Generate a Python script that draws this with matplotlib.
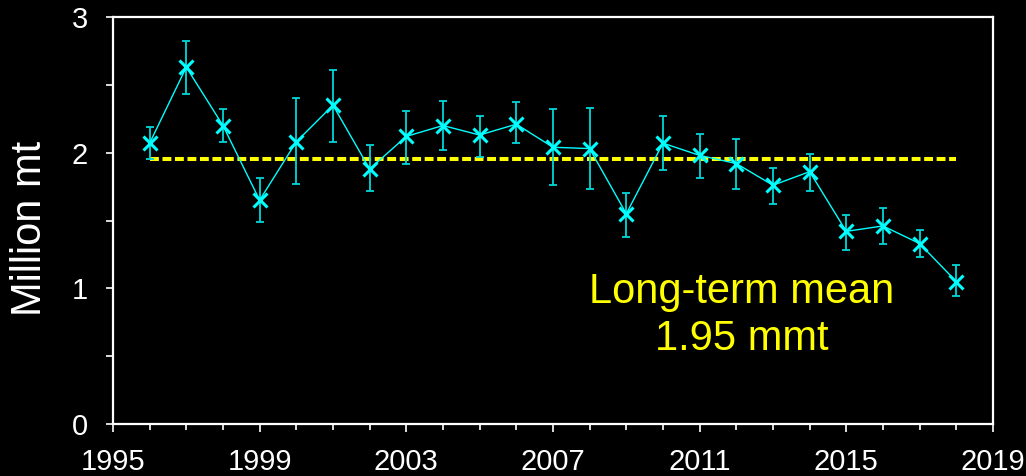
import matplotlib
matplotlib.use("Agg")
import matplotlib.pyplot as plt
import numpy as np
from matplotlib.ticker import MultipleLocator

plt.rcParams['font.family'] = ['Liberation Sans', 'DejaVu Sans']

# annual estimates (million mt) with lower / upper confidence limits
years = np.arange(1996, 2019)
values = [2.07, 2.63, 2.20, 1.65, 2.08, 2.35, 1.88, 2.12, 2.20, 2.13, 2.21, 2.04,
          2.03, 1.55, 2.07, 1.98, 1.92, 1.76, 1.86, 1.42, 1.46, 1.33, 1.05]
lower = [1.95, 2.43, 2.08, 1.49, 1.77, 2.08, 1.72, 1.92, 2.02, 1.97, 2.07, 1.76,
         1.73, 1.38, 1.87, 1.81, 1.73, 1.62, 1.72, 1.28, 1.33, 1.23, 0.94]
upper = [2.19, 2.82, 2.32, 1.81, 2.40, 2.61, 2.06, 2.31, 2.38, 2.27, 2.37, 2.32,
         2.33, 1.70, 2.27, 2.14, 2.10, 1.89, 1.99, 1.54, 1.59, 1.43, 1.17]
long_term_mean = 1.95
year_ticks = np.arange(1995, 2020, 4)

values = np.array(values)
yerr = [values - np.array(lower), np.array(upper) - values]

fig = plt.figure(figsize=(10.26, 4.76), dpi=100, facecolor='black')
ax = fig.add_axes([0.1101, 0.1092, 0.8577, 0.8551], facecolor='black')

ax.errorbar(years, values, yerr=yerr, fmt='none', ecolor='#00D8D8',
            elinewidth=1.3, capsize=3.0, capthick=1.3, zorder=2)
ax.plot(years, values, color='#00FFFF', lw=1.0, marker='x', markersize=10,
        markeredgewidth=2.2, zorder=3)

ax.plot([years[0], years[-1]], [long_term_mean, long_term_mean],
        color='#FFFF00', lw=2.9, linestyle=(0, (2.2, 0.9)), zorder=1)

ax.text(2012.15, 0.80, 'Long-term mean\n%.2f mmt' % long_term_mean,
        color='#FFFF00', fontsize=30, ha='center', va='center',
        linespacing=1.25)

ax.set_xlim(1995, 2019)
ax.set_ylim(0, 3)
ax.set_xticks(year_ticks)
ax.xaxis.set_minor_locator(MultipleLocator(1))
ax.yaxis.set_major_locator(MultipleLocator(1))
ax.yaxis.set_minor_locator(MultipleLocator(0.5))

for s in ax.spines.values():
    s.set_color('white')
    s.set_linewidth(1.6)

ax.tick_params(axis='x', which='major', length=6, width=1.2, color='white',
               labelcolor='white', labelsize=21, pad=11)
ax.tick_params(axis='x', which='minor', length=4, width=1.2, color='white')
ax.tick_params(axis='y', which='both', length=5, width=1.2, color='white',
               labelcolor='white', labelsize=21, pad=13)

ax.set_ylabel('Million mt', color='white', fontsize=30)
ax.yaxis.set_label_coords(-0.071, 0.48)

fig.savefig('out.png', dpi=100, facecolor='black')
